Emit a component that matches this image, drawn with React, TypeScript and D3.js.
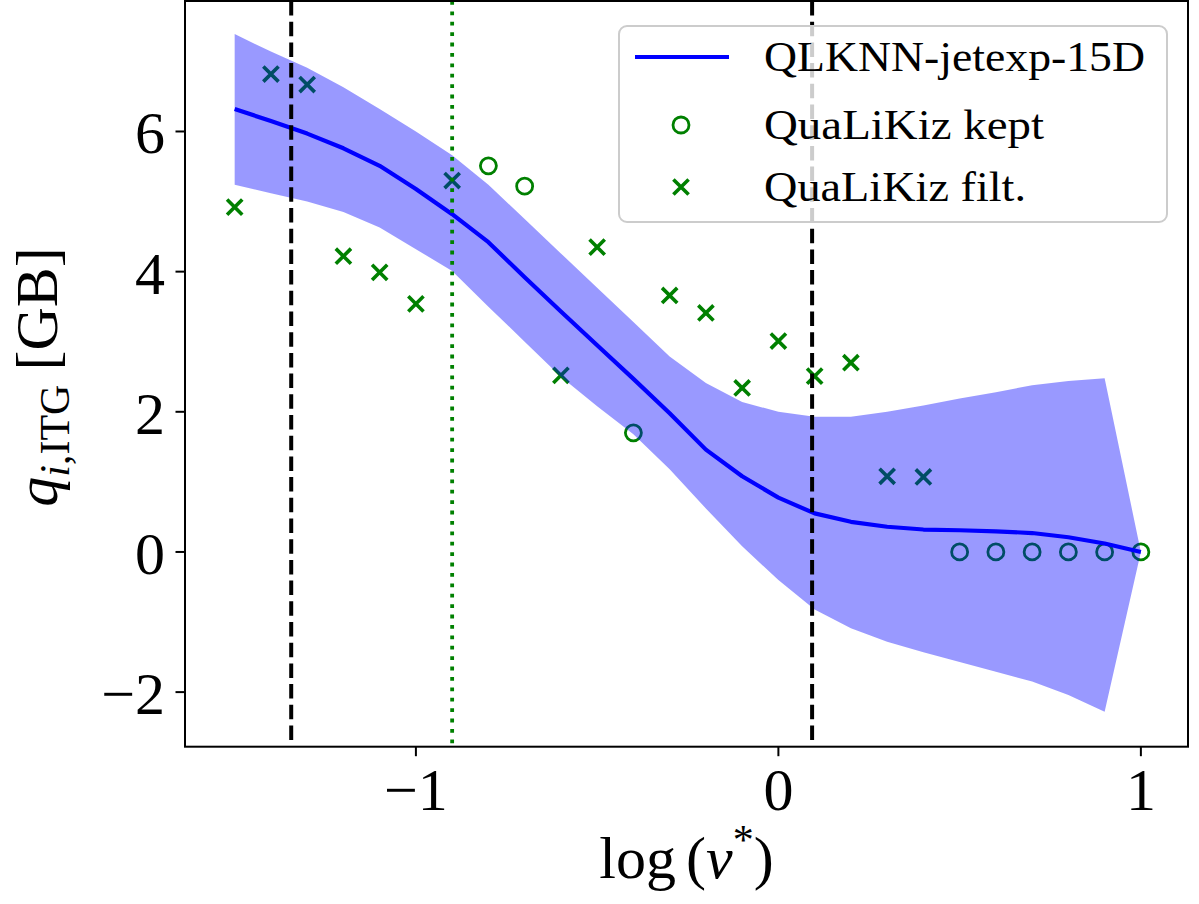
import React from 'react';
import * as d3 from 'd3';

// ---- data ----
const xGrid = [-1.5, -1.4, -1.3, -1.2, -1.1, -1.0, -0.9, -0.8, -0.7, -0.6, -0.5, -0.4, -0.3, -0.2, -0.1, 0.0, 0.1, 0.2, 0.3, 0.4, 0.5, 0.6, 0.7, 0.8, 0.9, 1.0];
const nnMean = [6.32, 6.15, 5.97, 5.76, 5.51, 5.18, 4.82, 4.42, 3.92, 3.43, 2.95, 2.47, 1.98, 1.46, 1.08, 0.775, 0.55, 0.43, 0.36, 0.32, 0.31, 0.295, 0.27, 0.21, 0.12, 0.0];
const nnUpper = [7.39, 7.14, 6.91, 6.63, 6.32, 6.0, 5.66, 5.24, 4.75, 4.26, 3.77, 3.28, 2.79, 2.41, 2.14, 2.0, 1.93, 1.93, 2.0, 2.09, 2.19, 2.28, 2.38, 2.44, 2.48, 0.0];
const nnLower = [5.24, 5.12, 5.0, 4.85, 4.63, 4.32, 4.01, 3.5, 3.0, 2.5, 2.08, 1.68, 1.18, 0.62, 0.08, -0.4, -0.82, -1.09, -1.28, -1.43, -1.57, -1.71, -1.85, -2.04, -2.28, 0.0];

const keptX = [-0.8, -0.7, -0.4, 0.5, 0.6, 0.7, 0.8, 0.9, 1.0];
const keptY = [5.51, 5.22, 1.7, 0, 0, 0, 0, 0, 0];

const filtX = [-1.5, -1.4, -1.3, -1.2, -1.1, -1.0, -0.9, -0.6, -0.5, -0.3, -0.2, -0.1, 0.0, 0.1, 0.2, 0.3, 0.4];
const filtY = [4.92, 6.82, 6.67, 4.22, 3.99, 3.54, 5.3, 2.52, 4.35, 3.66, 3.41, 2.34, 3.01, 2.51, 2.7, 1.08, 1.07];

const dashedX = [-1.344, 0.093];
const dottedX = [-0.9];

const xTicks = [-1, 0, 1];
const yTicks = [-2, 0, 2, 4, 6];

const legendLabels = ['QLKNN-jetexp-15D', 'QuaLiKiz kept', 'QuaLiKiz filt.'];

// ---- layout ----
const W = 1199;
const H = 904;
const L = 185, R = 1188, T = 1, B = 746.7;
const FONT = "'Liberation Serif', 'DejaVu Serif', serif";
const GREEN = '#008000';
const BLUE = '#0000ff';

const fmt = (v: number) => (v < 0 ? '\u2212' + Math.abs(v) : String(v));

export default function App() {
  const x = d3.scaleLinear().domain([-1.637, 1.13]).range([L, R]);
  const y = d3.scaleLinear().domain([-2.779, 7.862]).range([B, T]);

  const band = d3
    .area<number>()
    .x((_, i) => x(xGrid[i]))
    .y0((_, i) => y(nnLower[i]))
    .y1((_, i) => y(nnUpper[i]));
  const line = d3
    .line<number>()
    .x((_, i) => x(xGrid[i]))
    .y((d) => y(d));

  const crossPath = (cx: number, cy: number, s: number) =>
    `M${cx - s},${cy - s}L${cx + s},${cy + s}M${cx - s},${cy + s}L${cx + s},${cy - s}`;

  return (
    <svg width={W} height={H} style={{ position: 'absolute', left: 0, top: 0, background: '#fff' }} fontFamily={FONT}>
      <rect x={0} y={0} width={W} height={H} fill="#fff" />
      <defs>
        <clipPath id="plotclip">
          <rect x={L} y={T} width={R - L} height={B - T} />
        </clipPath>
      </defs>
      <g clipPath="url(#plotclip)">
        {filtX.map((v, i) => (
          <path key={'f' + i} d={crossPath(x(v), y(filtY[i]), 7.6)} stroke={GREEN} strokeWidth={3.6} fill="none" />
        ))}
        {keptX.map((v, i) => (
          <circle key={'k' + i} cx={x(v)} cy={y(keptY[i])} r={8} stroke={GREEN} strokeWidth={2.8} fill="none" />
        ))}
        <path d={band(nnMean) || ''} fill={BLUE} fillOpacity={0.4} stroke="none" />
        <path d={line(nnMean) || ''} fill="none" stroke={BLUE} strokeWidth={4.2} strokeLinejoin="round" />
        {dashedX.map((v, i) => (
          <line key={'d' + i} x1={x(v)} x2={x(v)} y1={T} y2={B} stroke="#000" strokeWidth={4} strokeDasharray="14.5,6.2" />
        ))}
        {dottedX.map((v, i) => (
          <line key={'o' + i} x1={x(v)} x2={x(v)} y1={T} y2={B} stroke={GREEN} strokeWidth={3.8} strokeDasharray="3.8,6.6" />
        ))}
      </g>

      {/* axes frame */}
      <rect x={L} y={T} width={R - L} height={B - T} fill="none" stroke="#000" strokeWidth={2} />

      {/* x ticks */}
      {xTicks.map((t) => (
        <g key={'xt' + t}>
          <line x1={x(t)} x2={x(t)} y1={B} y2={B + 9.5} stroke="#000" strokeWidth={2} />
          <text x={x(t)} y={810} fontSize={60} textAnchor="middle" fill="#000">
            {fmt(t)}
          </text>
        </g>
      ))}
      {/* y ticks */}
      {yTicks.map((t) => (
        <g key={'yt' + t}>
          <line x1={L - 9.5} x2={L} y1={y(t)} y2={y(t)} stroke="#000" strokeWidth={2} />
          <text x={165} y={y(t) + 22} fontSize={60} textAnchor="end" fill="#000">
            {fmt(t)}
          </text>
        </g>
      ))}

      {/* x label */}
      <text x={(L + R) / 2} y={878} fontSize={60} textAnchor="middle" fill="#000">
        <tspan>log</tspan>
        <tspan dx={10}>(</tspan>
        <tspan fontStyle="italic">ν</tspan>
        <tspan fontSize={42} dy={-24}>*</tspan>
        <tspan dy={24}>)</tspan>
      </text>

      {/* y label */}
      <text transform={`translate(57,377) rotate(-90)`} fontSize={60} textAnchor="middle" fill="#000">
        <tspan fontStyle="italic">q</tspan>
        <tspan fontSize={42} dy={12} fontStyle="italic">i</tspan>
        <tspan fontSize={42}>,ITG</tspan>
        <tspan dy={-12} dx={14}>[GB]</tspan>
      </text>

      {/* legend */}
      <g>
        <rect x={619} y={26} width={548} height={196} rx={8} ry={8} fill="#fff" fillOpacity={0.8} stroke="#cccccc" strokeWidth={2} />
        <line x1={635} x2={729} y1={57} y2={57} stroke={BLUE} strokeWidth={4.2} />
        <circle cx={681} cy={125} r={8} stroke={GREEN} strokeWidth={2.8} fill="none" />
        <path d={crossPath(681, 187, 7.6)} stroke={GREEN} strokeWidth={3.6} fill="none" />
        <text x={764} y={71} fontSize={42} fill="#000" textLength={381} lengthAdjust="spacingAndGlyphs">
          {legendLabels[0]}
        </text>
        <text x={764} y={139} fontSize={42} fill="#000" textLength={280} lengthAdjust="spacingAndGlyphs">
          {legendLabels[1]}
        </text>
        <text x={764} y={201} fontSize={42} fill="#000" textLength={262} lengthAdjust="spacingAndGlyphs">
          {legendLabels[2]}
        </text>
      </g>
    </svg>
  );
}
